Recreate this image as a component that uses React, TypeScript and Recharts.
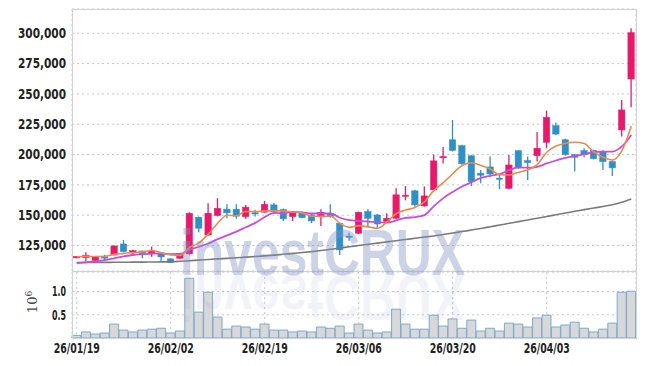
import { ComposedChart, Bar, Line, XAxis, YAxis, CartesianGrid } from "recharts";

const dates = [
  "26/01/19", "26/01/20", "26/01/21", "26/01/22", "26/01/23",
  "26/01/26", "26/01/27", "26/01/28", "26/01/29", "26/01/30",
  "26/02/02", "26/02/03", "26/02/04", "26/02/05", "26/02/06",
  "26/02/09", "26/02/10", "26/02/11", "26/02/12", "26/02/13",
  "26/02/19", "26/02/20", "26/02/23", "26/02/24", "26/02/25",
  "26/02/26", "26/02/27", "26/03/03", "26/03/04", "26/03/05",
  "26/03/06", "26/03/09", "26/03/10", "26/03/11", "26/03/12",
  "26/03/13", "26/03/16", "26/03/17", "26/03/18", "26/03/19",
  "26/03/20", "26/03/23", "26/03/24", "26/03/25", "26/03/26",
  "26/03/27", "26/03/30", "26/03/31", "26/04/01", "26/04/02",
  "26/04/03", "26/04/06", "26/04/07", "26/04/08", "26/04/09",
  "26/04/10", "26/04/13", "26/04/14", "26/04/15", "26/04/16",
];

const open = [
  114800, 115000, 112600, 115600, 117200, 126300, 119000, 120500, 118300, 118900,
  114000, 114500, 118100, 148300, 133700, 149700, 155000, 155000, 148800, 152000,
  152500, 158500, 154700, 148800, 152400, 150200, 148800, 151600, 143400, 132800,
  135100, 153000, 150200, 144700, 147500, 166000, 170100, 157700, 170900, 197700,
  212200, 207300, 199000, 184600, 189800, 180600, 172200, 203200, 195000, 199100,
  210100, 223800, 212200, 199900, 203200, 203500, 202700, 194200, 220300, 262300,
];
const high = [
  116300, 119500, 116200, 117300, 124900, 129600, 121600, 121000, 124100, 119500,
  114500, 119000, 152500, 149000, 159900, 164000, 159000, 159000, 158500, 154400,
  161800, 160000, 155500, 153000, 153000, 151000, 155000, 159000, 144000, 135600,
  153000, 154900, 151000, 151600, 172300, 174000, 171000, 173600, 200000, 206300,
  228500, 208000, 199500, 187300, 198300, 184000, 199600, 203500, 198300, 218500,
  236200, 226500, 213000, 200500, 205200, 204000, 203500, 195000, 245000, 304100,
];
const low = [
  114500, 112300, 112300, 112600, 117000, 119500, 117300, 114500, 115800, 112300,
  110500, 114000, 117500, 136000, 133000, 149000, 147500, 147000, 147000, 149000,
  152000, 151000, 145300, 145300, 147500, 143500, 141200, 148000, 117200, 129000,
  134500, 140300, 139600, 144000, 147000, 162300, 157000, 157000, 170500, 192600,
  202500, 191500, 174000, 176400, 182000, 171500, 171500, 188000, 179000, 194200,
  205200, 216000, 199000, 186000, 197500, 196000, 187300, 182300, 214800, 239000,
];
const close = [
  116000, 116700, 115900, 115200, 124700, 120000, 120800, 118300, 120500, 115600,
  110900, 118600, 151600, 139300, 151600, 155700, 151900, 149200, 156600, 151400,
  159000, 153000, 147000, 152400, 148000, 145300, 152400, 148800, 121400, 132000,
  152400, 147500, 142800, 147500, 166800, 166500, 158500, 165900, 194800, 198300,
  203400, 192400, 177700, 183000, 184000, 179700, 191400, 189000, 193400, 205200,
  230700, 216900, 200000, 197800, 199900, 196600, 194200, 189000, 236800, 300500,
];

const ma5 = [
  115800, 116000, 116000, 116200, 117700, 118500, 119300, 119800, 120900, 119000,
  117200, 116800, 123400, 127200, 134400, 143400, 150000, 149500, 153000, 153000,
  153600, 153800, 153400, 152600, 151900, 149100, 149000, 149400, 143200, 140000,
  141400, 140400, 139200, 144400, 151400, 154200, 156400, 161000, 170500, 176800,
  184200, 191000, 193300, 191000, 188100, 183400, 183200, 185400, 187500, 191700,
  201900, 207000, 209200, 210100, 209100, 202200, 197700, 195500, 203300, 223400,
];
const ma10 = [
  110500, 111200, 112000, 113000, 114500, 116000, 117200, 117800, 118300, 118400,
  117900, 118000, 121600, 124000, 126700, 130300, 133400, 136500, 140100, 143700,
  148500, 151900, 151500, 152800, 152400, 151400, 151400, 151400, 147900, 145900,
  145300, 144700, 144300, 143800, 145700, 147800, 148400, 150100, 157500, 164100,
  169200, 173700, 177200, 180700, 182500, 183800, 187100, 189400, 189200, 189900,
  192700, 195100, 197300, 198800, 200400, 202100, 202400, 202400, 206700, 216200,
];
const ma60 = [
  111000, 111000, 111100, 111100, 111200, 111200, 111300, 111300, 111400, 111500,
  111600, 112000, 112500, 113000, 113500, 114000, 114400, 114900, 115400, 115900,
  116500, 117100, 117800, 118500, 119200, 120000, 120900, 121900, 122900, 124000,
  125000, 126000, 127000, 128000, 129000, 130000, 131000, 132000, 132900, 134100,
  135300, 136500, 137800, 139100, 140500, 141900, 143300, 144700, 146100, 147500,
  148900, 150400, 151800, 153200, 154600, 155900, 157200, 158600, 160600, 163300,
];

const volume = [
  56000, 130000, 86000, 107000, 300000, 170000, 130000, 170000, 190000, 210000,
  107000, 150000, 1285000, 557000, 985000, 450000, 190000, 257000, 236000, 190000,
  300000, 170000, 170000, 130000, 150000, 130000, 236000, 210000, 257000, 107000,
  300000, 170000, 107000, 130000, 620000, 300000, 190000, 190000, 490000, 257000,
  410000, 210000, 385000, 150000, 210000, 150000, 320000, 300000, 236000, 430000,
  490000, 236000, 280000, 340000, 210000, 130000, 190000, 320000, 985000, 1006000,
];

const priceTicks = [125000, 150000, 175000, 200000, 225000, 250000, 275000, 300000];
const volumeTicks = [500000, 1000000];

const rows = dates.map((date, i) => ({
  date,
  open: open[i],
  high: high[i],
  low: low[i],
  close: close[i],
  range: [low[i], high[i]],
  ma5: ma5[i],
  ma10: ma10[i],
  ma60: ma60[i],
  volume: volume[i],
}));

const RED = "#e8196b";
const BLUE = "#2f90c8";
const FONT = "'DejaVu Sans Condensed', 'DejaVu Sans', sans-serif";

function Candle(props: any) {
  const { x, y, width, height, payload } = props;
  if (!payload) return null;
  const { open, close, high, low } = payload;
  const top = Math.min(y, y + height);
  const h = Math.abs(height);
  const ratio = high === low ? 0 : h / (high - low);
  const cx = x + width / 2;
  const color = close >= open ? RED : BLUE;
  const bTop = top + (high - Math.max(open, close)) * ratio;
  const bBot = top + (high - Math.min(open, close)) * ratio;
  const bw = 6.4;
  return (
    <g>
      <line x1={cx} x2={cx} y1={top} y2={top + h} stroke={color} strokeWidth={1.3} />
      <rect
        x={cx - bw / 2}
        y={bTop}
        width={bw}
        height={Math.max(1.2, bBot - bTop)}
        fill={color}
        stroke={color}
        strokeWidth={0.5}
      />
    </g>
  );
}

function PriceTick({ x, y, payload }: any) {
  return (
    <text x={x} y={y} dy="0.36em" textAnchor="end" fontFamily={FONT} fontSize={13.5} fontWeight={700}
      fill="#222" textLength={48} lengthAdjust="spacingAndGlyphs">
      {Number(payload.value).toLocaleString("en-US")}
    </text>
  );
}

function VolumeTick({ x, y, payload }: any) {
  return (
    <text x={x} y={y} dy="0.36em" textAnchor="end" fontFamily={FONT} fontSize={13.5} fontWeight={700}
      fill="#222" textLength={14} lengthAdjust="spacingAndGlyphs">
      {(payload.value / 1000000).toFixed(1)}
    </text>
  );
}

function DateTick({ x, y, payload }: any) {
  return (
    <text x={x} y={y} dy="0.72em" textAnchor="middle" fontFamily={FONT} fontSize={14.5} fontWeight={700}
      fill="#222" textLength={46} lengthAdjust="spacingAndGlyphs">
      {payload.value}
    </text>
  );
}

export default function App() {
  return (
    <div style={{ position: "absolute", left: 0, top: 0, width: 645, height: 366, background: "#fff" }}>
      <ComposedChart
        width={645}
        height={272}
        data={rows}
        margin={{ top: 9, right: 9, left: 0, bottom: 1 }}
        barCategoryGap={0}
      >
        <CartesianGrid stroke="#c4c8d6" strokeDasharray="2 3" />
        <XAxis dataKey="date" interval={9} height={0} tick={false} tickLine={false} axisLine={false} />
        <YAxis
          width={72}
          domain={[104000, 320000]}
          ticks={priceTicks}
          allowDataOverflow
          tickLine={false}
          axisLine={false}
          tickSize={0}
          tickMargin={6}
          tick={PriceTick}
        />
        <Bar dataKey="range" shape={Candle} isAnimationActive={false} />
        <Line type="monotone" dataKey="ma60" stroke="#7a7a7a" strokeWidth={1.6} dot={false} isAnimationActive={false} />
        <Line type="monotone" dataKey="ma10" stroke="#c94be0" strokeWidth={1.8} dot={false} isAnimationActive={false} />
        <Line type="monotone" dataKey="ma5" stroke="#f08848" strokeWidth={1.6} dot={false} isAnimationActive={false} />
      </ComposedChart>
      <div style={{ position: "absolute", left: 0, top: 272 }}>
        <ComposedChart
          width={645}
          height={94}
          data={rows}
          margin={{ top: 0, right: 9, left: 0, bottom: 0 }}
          barCategoryGap={0}
        >
          <CartesianGrid stroke="#c4c8d6" strokeDasharray="2 3" />
          <XAxis
            dataKey="date"
            interval={9}
            height={28}
            tickLine={false}
            axisLine={false}
            tickSize={0}
            tickMargin={5}
            tick={DateTick}
          />
          <YAxis
            width={72}
            domain={[0, 1420000]}
            ticks={volumeTicks}
            allowDataOverflow
            tickLine={false}
            axisLine={false}
            tickSize={0}
            tickMargin={6}
            tick={VolumeTick}
          />
          <Bar dataKey="volume" fill="#d8d8d8" stroke="#7ba9cf" strokeWidth={1} isAnimationActive={false} />
        </ComposedChart>
      </div>
      <div
        style={{
          position: "absolute",
          left: 72,
          top: 9,
          width: 563,
          height: 328,
          border: "1px solid #d2d2d2",
          pointerEvents: "none",
        }}
      />
      <div style={{ position: "absolute", left: 72, top: 271, width: 564, height: 1, background: "#d2d2d2" }} />
      <svg width={645} height={366} style={{ position: "absolute", left: 0, top: 0, pointerEvents: "none" }}>
        <text
          transform="translate(37 302) rotate(-90)"
          textAnchor="middle"
          fontFamily="'DejaVu Serif', serif"
          fontSize={13}
          fill="#444"
        >
          10
          <tspan dy={-5} fontSize={9}>6</tspan>
        </text>
        <text
          x={180}
          y={275}
          fontFamily="'Liberation Sans', Arial, sans-serif"
          fontWeight={700}
          fontSize={64}
          textLength={285}
          lengthAdjust="spacingAndGlyphs"
          fill="rgba(130,145,195,0.4)"
        >
          investCRUX
        </text>
        <text
          x={180}
          y={275}
          transform="translate(0 550) scale(1 -1)"
          fontFamily="'Liberation Sans', Arial, sans-serif"
          fontWeight={700}
          fontSize={64}
          textLength={285}
          lengthAdjust="spacingAndGlyphs"
          fill="rgba(150,160,200,0.13)"
        >
          investCRUX
        </text>
      </svg>
    </div>
  );
}
